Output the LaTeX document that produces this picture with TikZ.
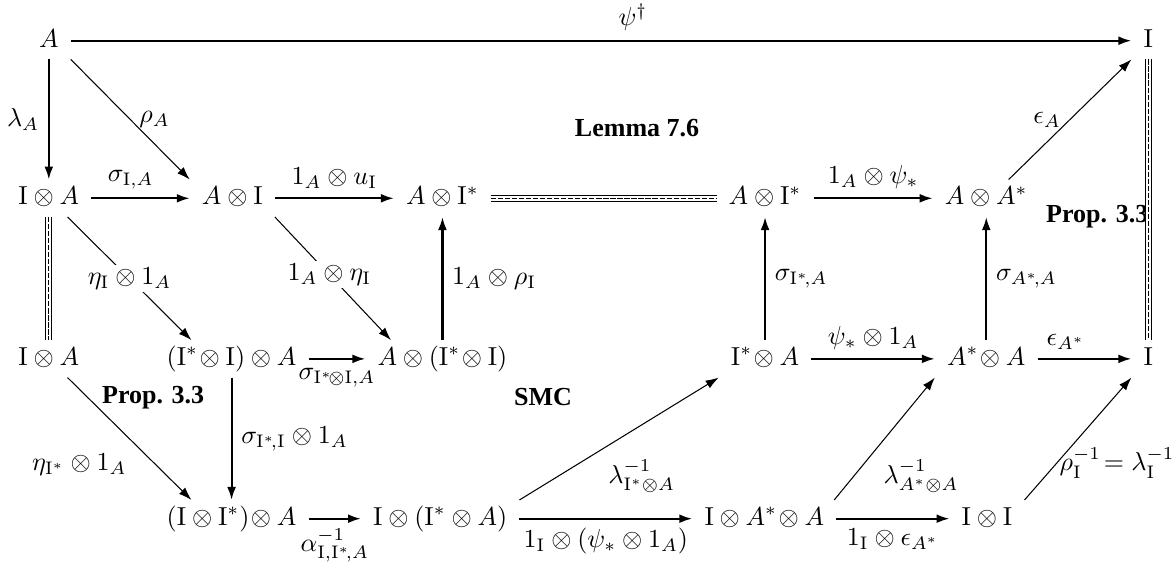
\documentclass[tikz,border=0pt]{standalone}
\usepackage[no-math]{fontspec}
\usepackage{amsmath}
\usepackage{tikz}
\usetikzlibrary{arrows.meta}
\newfontfamily\timesbf{Liberation Serif}
\newcommand{\Iu}{\mathrm{I}}

\begin{document}
\begin{tikzpicture}[
    obj/.style={inner xsep=4.5pt, inner ysep=1.5pt, text height=8pt, text depth=3pt},
    arr/.style={-{Latex[length=5pt,width=3.4pt]}, line width=0.8pt},
    darr/.style={-{Latex[length=5pt,width=3.4pt]}, line width=0.4pt},
    eq/.style={double, double distance=1.9pt, line width=0.4pt},
    eqmid/.style={line width=0.4pt, dash pattern=on 2pt off 0.7pt},
    lbl/.style={font=\timesbf\bfseries}
]
  \useasboundingbox (0,0) rectangle (15.84,-7.61);

  % objects
  \node[obj] (a) at (0.66,-0.55) {$A$};
  \node[obj] (i0) at (15.52,-0.55) {$\Iu$};

  \node[obj] (ia) at (0.66,-2.68) {$\Iu\otimes A$};
  \node[obj] (ai) at (3.14,-2.68) {$A\otimes\Iu$};
  \node[obj] (ais) at (5.98,-2.68) {$A\otimes\Iu^*$};
  \node[obj] (ais2) at (10.34,-2.68) {$A\otimes\Iu^*$};
  \node[obj] (aas) at (13.33,-2.68) {$A\otimes A^*$};

  \node[obj] (ia2) at (0.66,-4.85) {$\Iu\otimes A$};
  \node[obj] (isia) at (3.13,-4.85) {$(\Iu^*\!\otimes\Iu)\otimes A$};
  \node[obj] (aisi) at (5.98,-4.85) {$A\otimes(\Iu^*\!\otimes\Iu)$};
  \node[obj] (isa) at (10.34,-4.85) {$\Iu^*\!\otimes A$};
  \node[obj] (asa) at (13.33,-4.85) {$A^*\!\otimes A$};
  \node[obj] (i1) at (15.52,-4.85) {$\Iu$};

  \node[obj] (iisa) at (3.13,-7.01) {$(\Iu\otimes\Iu^*)\!\otimes A$};
  \node[obj] (iisa2) at (5.95,-7.01) {$\Iu\otimes(\Iu^*\otimes A)$};
  \node[obj] (iasa) at (10.33,-7.01) {$\Iu\otimes A^*\!\otimes A$};
  \node[obj] (ii) at (13.34,-7.01) {$\Iu\otimes\Iu$};

  % region labels
  \node[lbl] (lem) at (8.61,-1.73) {Lemma 7.6};
  \node[lbl] (propr) at (14.83,-2.93) {Prop. 3.3};
  \node[lbl] (propl) at (2.07,-5.37) {Prop. 3.3};
  \node[lbl] (smc) at (7.34,-5.37) {SMC};

  % top part
  \draw[arr] (a) -- node[above, pos=.53] {$\psi^\dagger$} (i0);
  \draw[arr] (a) -- node[left] {$\lambda_A$} (ia);
  \draw[darr] (a.south east) -- node[right] {$\rho_A$} (ai.north west);
  \draw[arr] (ia) -- node[above, pos=.4] {$\sigma_{\Iu,A}$} (ai);
  \draw[arr] (ai) -- node[above] {$1_A\otimes u_\Iu$} (ais);
  \draw[eq] (ais) -- (ais2);
  \draw[eqmid] (ais) -- (ais2);
  \draw[arr] (ais2) -- node[above] {$1_A\otimes\psi_*$} (aas);
  \draw[darr] (aas.40) -- node[left] {$\epsilon_A$} (i0.south west);
  \draw[eq] (i0) -- (i1);
  \draw[eqmid] (i0) -- (i1);

  % middle part
  \draw[eq] (ia) -- (ia2);
  \draw[eqmid] (ia) -- (ia2);
  \draw[darr] (ia.-45) -- node[fill=white, inner sep=1pt] {$\eta_\Iu\otimes 1_A$} (isia.155);
  \draw[darr] (ai.south east) -- node[fill=white, inner sep=1pt, pos=.47] {$1_A\otimes\eta_\Iu$} (aisi.160);
  \draw[arr] (aisi) -- node[right] {$1_A\otimes\rho_\Iu$} (ais);
  \draw[arr] (isia) -- node[below] {$\sigma_{\Iu^*\!\otimes\Iu,A}$} (aisi);
  \draw[arr] (isa) -- node[right] {$\sigma_{\Iu^*\!,A}$} (ais2);
  \draw[arr] (isa) -- node[above] {$\psi_*\otimes 1_A$} (asa);
  \draw[arr] (asa) -- node[right] {$\sigma_{A^*\!,A}$} (aas);
  \draw[arr] (asa) -- node[above, pos=.3] {$\epsilon_{A^*}$} (i1);

  % bottom part
  \draw[darr] (ia2.-45) -- node[below left, pos=.55] {$\eta_{\Iu^*}\otimes 1_A$} (iisa.155);
  \draw[arr] (isia) -- node[right] {$\sigma_{\Iu^*\!,\Iu}\otimes 1_A$} (iisa);
  \draw[arr] (iisa) -- node[below] {$\alpha^{-1}_{\Iu,\Iu^*\!,A}$} (iisa2);
  \draw[darr] (iisa2.north east) -- node[below right, pos=.4] {$\lambda^{-1}_{\Iu^*\otimes A}$} (isa.south west);
  \draw[arr] (iisa2) -- node[below] {$1_\Iu\otimes(\psi_*\otimes 1_A)$} (iasa);
  \draw[darr] (iasa.15) -- node[below right, pos=.4] {$\lambda^{-1}_{A^*\otimes A}$} (asa.south west);
  \draw[arr] (iasa) -- node[below] {$1_\Iu\otimes\epsilon_{A^*}$} (ii);
  \draw[darr] (ii.north east) -- node[right, pos=.3, inner sep=1pt] {$\rho^{-1}_\Iu\!=\lambda^{-1}_\Iu$} (i1.south west);
\end{tikzpicture}
\end{document}
